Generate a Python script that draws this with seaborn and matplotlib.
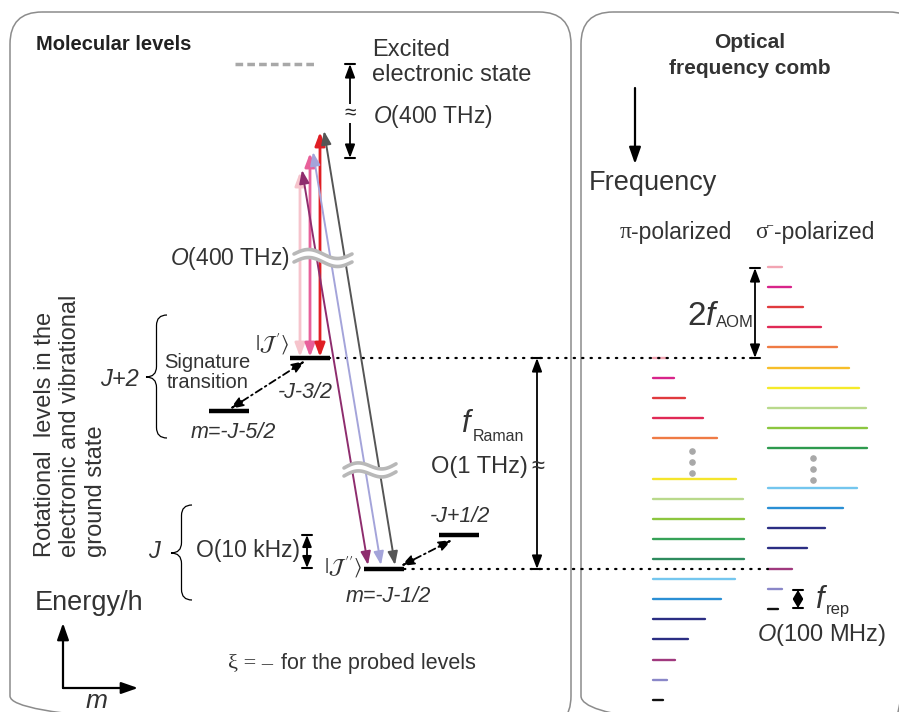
import numpy as np
import pandas as pd
import seaborn as sns
import matplotlib.pyplot as plt
from matplotlib.patches import FancyBboxPatch, PathPatch
from matplotlib.path import Path

sns.set_theme(style='white')
plt.rcParams['font.family'] = ['Liberation Sans', 'DejaVu Sans']
plt.rcParams['mathtext.fontset'] = 'custom'
plt.rcParams['mathtext.rm'] = 'Liberation Sans'
plt.rcParams['mathtext.it'] = 'Liberation Sans:italic'

# comb teeth: line length (px) per slot, nan = slot with the dots
pi_lengths = [13, 21, 32, 50, 64, np.nan, 83, 90, 91, 91, 91, 82, 68, 52, 35, 22, 14, 10]
pi_colors = ['#f2a5b3', '#d8248a', '#e03a3e', '#e02a55', '#ef7b45', None, '#f4e52c', '#b9d98c',
             '#8cc63f', '#36a258', '#2e8b5e', '#74c6ee', '#2a8fd4', '#2b2e83', '#2b2e83',
             '#a0397e', '#8a87c8', '#111111']
sigma_lengths = [14, 23, 35, 53, 69, 81, 91, 98, 99, 99, np.nan, 89, 75, 57, 39, 24, 14, 10]
sigma_colors = ['#f2a5b3', '#d8248a', '#e03a3e', '#e02a55', '#ef7b45', '#f6be2a', '#f5ea2a',
                '#b9d98c', '#8cc63f', '#2e9a4e', None, '#74c6ee', '#2a8fd4', '#2b2e83', '#2b2e83',
                '#a0397e', '#8a87c8', '#111111']

# transition arrow colours on the level scheme
vertical_colors = ['#f6c4cc', '#e8609a', '#e01e24']
slanted_colors = ['#8e2d6e', '#a4a4da', '#555555']

side_label = ['Rotational  levels in the', 'electronic and vibrational', 'ground state']

TXT = '#333333'

fig = plt.figure(figsize=(8.99, 7.12), dpi=100)
ax = fig.add_axes([0, 0, 1, 1])

# ---- comb teeth with seaborn
rows = []
palette = {}
for name, x0, y0, lengths, colors in [('pi', 653, 358, pi_lengths, pi_colors),
                                      ('sig', 768, 267, sigma_lengths, sigma_colors)]:
    for k, (L, c) in enumerate(zip(lengths, colors)):
        if np.isnan(L):
            continue
        key = f'{name}{k}'
        y = y0 + k * 20.1
        rows.append({'tooth': key, 'x': x0, 'y': y})
        rows.append({'tooth': key, 'x': x0 + L, 'y': y})
        palette[key] = c
comb = pd.DataFrame(rows)
sns.lineplot(data=comb, x='x', y='y', hue='tooth', palette=palette, estimator=None,
             sort=False, legend=False, lw=1.7, ax=ax)

ax.scatter([692] * 3, [451, 462, 473], s=14, color='#a8a8a8', zorder=3)
ax.scatter([813] * 3, [458, 469, 480], s=14, color='#a8a8a8', zorder=3)

ax.set_xlim(0, 899)
ax.set_ylim(712, 0)
ax.axis('off')

# ---- panels
for x0, w in [(10, 561), (581, 340)]:
    ax.add_patch(FancyBboxPatch((x0, 12), w, 716, boxstyle='round,pad=0,rounding_size=32',
                                ec='#8c8c8c', fc='none', lw=1.1, zorder=0))


def arrow(tail, head, color='black', lw=1.3, style='<|-|>', ls='-', hl=0.8, hw=0.3, z=3):
    ax.annotate('', xy=head, xytext=tail,
                arrowprops=dict(arrowstyle=f'{style},head_length={hl},head_width={hw}',
                                color=color, lw=lw, shrinkA=0, shrinkB=0,
                                mutation_scale=10, linestyle=ls), zorder=z)


def tee_arrow(x, y0, y1, hl=0.8, hw=0.3):
    arrow((x, y0), (x, y1), hl=hl, hw=hw)
    ax.plot([x - 5, x + 5], [y0, y0], color='black', lw=1.5)
    ax.plot([x - 5, x + 5], [y1, y1], color='black', lw=1.5)


def wave(x0, x1, yc, amp=4.5, gap=8, slope=0.0):
    xs = np.linspace(x0, x1, 80)
    base = yc + slope * (xs - x0)
    w = amp * np.sin(2 * np.pi * (xs - x0) / (x1 - x0))
    ax.fill_between(xs, base - gap / 2 - w, base + gap / 2 - w, color='white', zorder=4)
    for off in (-gap / 2, gap / 2):
        ax.plot(xs, base + off - w, color='#b8b8b8', lw=2.6, zorder=5, solid_capstyle='round')


def brace(x_arm, x_tip, y0, y1, ym):
    xm = (x_arm + x_tip) / 2
    h = (x_arm - x_tip) / 2
    verts = [(x_arm, y0), (xm, y0), (xm, y0 + h), (xm, ym - h), (xm, ym), (x_tip, ym),
             (xm, ym), (xm, ym + h), (xm, y1 - h), (xm, y1), (x_arm, y1)]
    codes = [Path.MOVETO, Path.CURVE3, Path.CURVE3, Path.LINETO, Path.CURVE3, Path.CURVE3,
             Path.CURVE3, Path.CURVE3, Path.LINETO, Path.CURVE3, Path.CURVE3]
    ax.add_patch(PathPatch(Path(verts, codes), fc='none', ec='black', lw=0.9))


# ---- left panel: molecular levels
ax.text(36, 45, 'Molecular levels', fontsize=14.5, fontweight='bold', color='#222222', va='center')
ax.plot([235, 315], [64, 64], color='#a8a8a8', lw=2.5, ls=(0, (2.2, 1.2)))
ax.text(372, 50, 'Excited', fontsize=17, color=TXT, va='center')
ax.text(372, 75, 'electronic state', fontsize=17, color=TXT, va='center')
tee_arrow(350, 64, 158)
ax.text(350, 113, '\u2248', fontsize=15, ha='center', va='center',
        bbox=dict(fc='white', ec='none', pad=0))
ax.text(373, 117, r'$O$(400 THz)', fontsize=16.5, color=TXT, va='center')

# transitions from the upper level |J'>
for x, top, c in zip([300, 310, 320], [172, 153, 132], vertical_colors):
    arrow((x, 357), (x, top), color=c, lw=2.0)
for (xt, yt), (xb, yb), c in zip([(302, 170), (313, 152), (324, 131)],
                                 [(368, 565), (381, 565), (395, 565)], slanted_colors):
    arrow((xb, yb), (xt, yt), color=c, lw=1.4)

wave(294, 352, 258)
ax.text(290, 258, r'$O$(400 THz)', fontsize=16.5, color=TXT, va='center', ha='right')
wave(344, 396, 472, amp=4, gap=8, slope=-0.08)

# levels
for x0, x1, y in [(290, 330, 358), (209, 249, 411), (364, 404, 569), (439, 479, 535)]:
    ax.plot([x0, x1], [y, y], color='black', lw=3.2, solid_capstyle='butt', zorder=3)

arrow((305, 361), (230, 409), lw=1.3, ls=(0, (4, 2, 1, 2)))
arrow((452, 540), (401, 566), lw=1.3, ls=(0, (4, 2, 1, 2)))

ax.text(289, 344, r'$|\mathcal{J}\,^{\prime}\rangle$', fontsize=15, ha='right', va='center',
        math_fontfamily='stix', color=TXT)
ax.text(362, 567, r'$|\mathcal{J}\,^{\prime\prime}\rangle$', fontsize=15, ha='right',
        va='center', math_fontfamily='stix', color=TXT)
ax.text(164, 362, 'Signature', fontsize=14.5, ha='left', va='center', color=TXT)
ax.text(167, 382, 'transition', fontsize=14.5, ha='left', va='center', color=TXT)
ax.text(305, 392, '-J-3/2', fontsize=15.5, style='italic', ha='center', va='center', color=TXT)
ax.text(233, 433, 'm=-J-5/2', fontsize=15.5, style='italic', ha='center', va='center', color=TXT)
ax.text(388, 596, 'm=-J-1/2', fontsize=15.5, style='italic', ha='center', va='center', color=TXT)
ax.text(460, 517, '-J+1/2', fontsize=15.5, style='italic', ha='center', va='center', color=TXT)

brace(167, 146, 315, 438, 377)
ax.text(139, 379, 'J+2', fontsize=17, style='italic', ha='right', va='center', color=TXT)
brace(192, 171, 505, 600, 553)
ax.text(160, 552, 'J', fontsize=17, style='italic', ha='right', va='center', color=TXT)

ax.text(300, 550, 'O(10 kHz)', fontsize=16.5, ha='right', va='center', color=TXT)
tee_arrow(307, 535, 568, hl=0.7, hw=0.28)

# f_Raman and the dotted guides to the comb
ax.plot([295, 755], [358, 358], color='black', lw=1.6, ls=(0, (0.6, 3.2)), dash_capstyle='round')
ax.plot([404, 768], [569, 569], color='black', lw=1.6, ls=(0, (0.6, 3.2)), dash_capstyle='round')
tee_arrow(537, 358, 569)
ax.text(461, 432, r'$f$', fontsize=22, va='baseline', color=TXT)
ax.text(473, 441, 'Raman', fontsize=11.5, va='baseline', color=TXT)
ax.text(528, 467, 'O(1 THz)', fontsize=17, ha='right', va='center', color=TXT)
ax.text(538, 467, '\u2248', fontsize=17, ha='center', va='center', color=TXT)

for x, line in zip([45, 70.5, 96], side_label):
    ax.text(x, 557, line, fontsize=17, rotation=90, rotation_mode='anchor',
            ha='left', va='center', color=TXT)
ax.text(35, 603, 'Energy/h', fontsize=19.5, va='center', color=TXT)
arrow((63, 688), (63, 623), style='-|>', lw=1.6, hl=1.0, hw=0.35)
arrow((63, 688), (138, 688), style='-|>', lw=1.6, hl=1.0, hw=0.35)
ax.text(97, 701, 'm', fontsize=19, style='italic', ha='center', va='center', color=TXT)
ax.text(228, 664, '\u03be = \u2013', fontsize=16, va='center', family='Liberation Serif', color=TXT)
ax.text(281, 664, 'for the probed levels', fontsize=15.5, va='center', color=TXT)

# ---- right panel: optical frequency comb
ax.text(750, 43, 'Optical', fontsize=15, fontweight='bold', ha='center', va='center', color=TXT)
ax.text(750, 68, 'frequency comb', fontsize=15, fontweight='bold', ha='center', va='center', color=TXT)
arrow((635, 88), (635, 164), style='-|>', lw=1.6, hl=1.0, hw=0.35)
ax.text(589, 183, 'Frequency', fontsize=19.5, va='center', color=TXT)
ax.text(620, 232, '\u03c0', fontsize=17, va='center', family='Liberation Serif', color=TXT)
ax.text(631, 232, '-polarized', fontsize=16.5, va='center', color=TXT)
ax.text(755, 232, '\u03c3', fontsize=17, va='center', family='Liberation Serif', color=TXT)
ax.text(767, 225, '\u2013', fontsize=8, va='center', color=TXT)
ax.text(774, 232, '-polarized', fontsize=16.5, va='center', color=TXT)

tee_arrow(755, 268, 358)
ax.text(687, 325, r'$2f$', fontsize=24, va='baseline', color=TXT)
ax.text(716, 327, 'AOM', fontsize=12, va='baseline', color=TXT)

tee_arrow(798, 590, 608, hl=0.5, hw=0.3)
ax.text(815, 608, r'$f$', fontsize=22, va='baseline', color=TXT)
ax.text(826, 614, 'rep', fontsize=12, va='baseline', color=TXT)
ax.text(822, 635, r'$O$(100 MHz)', fontsize=17, ha='center', va='center', color=TXT)

fig.savefig('out.png', dpi=100)
